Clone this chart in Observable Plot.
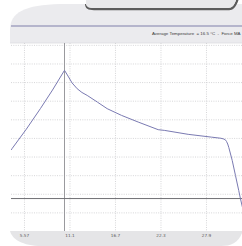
<!DOCTYPE html>
<html>
<head>
<meta charset="utf-8">
<script src="https://cdn.jsdelivr.net/npm/d3@7"></script>
<script src="https://cdn.jsdelivr.net/npm/@observablehq/plot@0.6"></script>
<style>
  html, body { margin: 0; padding: 0; background: #fff; overflow: hidden; }
  svg { display: block; }
</style>
</head>
<body>
<div id="chart"></div>
<script>
// ---- data ----
const xTicks = [5.57, 11.14, 16.71, 22.28, 27.85];
const xTickLabels = ["5.57", "11.1", "16.7", "22.3", "27.9"];
const yGrid = [1, 2, 3, 4, 5, 6, 7, 8, 9, 10];
const curveX = [3.98, 4.06, 5.8, 7.53, 9.0, 10.47, 10.9, 11.4, 12.02, 12.6, 13.25, 14.5, 15.69, 17.44, 19.49, 21.94, 22.74, 25.61, 28.46, 29.6, 29.89, 30.15, 30.30, 30.45, 30.58, 31.00, 31.40, 31.80, 32.01, 32.26];
const curveY = [4.40, 4.46, 5.50, 6.61, 7.60, 8.66, 8.35, 7.98, 7.67, 7.47, 7.31, 6.95, 6.60, 6.24, 5.88, 5.47, 5.43, 5.22, 5.07, 5.01, 4.98, 4.93, 4.84, 4.70, 4.52, 3.82, 3.01, 2.20, 1.76, 1.29];
const cursorX = [10.47];
const baseY = [1.77];
const headerText = "Average Temperature  = 16.5 °C  -  Force MA";

const curve = curveX.map((x, i) => ({x, y: curveY[i]}));

// decorative device-screen background
function background(index, scales, values, dims) {
  const g = d3.create("svg:g").attr("text-anchor", "start");
  const W = dims.width;
  // header band
  g.append("path")
    .attr("d", `M10,43 L10,30 C10,12 25,5 60,4 L${W},4 L${W},43 Z`)
    .attr("fill", "#ebebee");
  // top tab with bottom shadow
  g.append("path")
    .attr("d", `M85,4 C85,8.5 88,10.2 94,10.2 L229,10.2 C234,10.2 236.5,6 238.5,0 L236,0 C234.5,5 232,8 228,8 L94,8 C89,8 87,7 86,4 Z`)
    .attr("fill", "#5c5c5c");
  g.append("path")
    .attr("d", `M86,0 L86,4 C87,7 89,8 94,8 L228,8 C232,8 234.5,5 236,0 Z`)
    .attr("fill", "#e9e9eb");
  // blue-gray separator line
  g.append("line")
    .attr("x1", 11).attr("x2", W).attr("y1", 26).attr("y2", 26)
    .attr("stroke", "#a3a3c0").attr("stroke-width", 1.4);
  // header bottom edge
  g.append("line")
    .attr("x1", 10).attr("x2", W).attr("y1", 43).attr("y2", 43)
    .attr("stroke", "#dcdcdf").attr("stroke-width", 0.8);
  // bottom band
  g.append("path")
    .attr("d", `M10,231 L${W},231 L${W},233 C238,243 231,246 221,246 L42,246 C22,246 12,239 10,231 Z`)
    .attr("fill", "#e5e5e7");
  // header text
  g.append("text")
    .attr("x", 152).attr("y", 34.8)
    .attr("font-family", "Liberation Sans, Arial, sans-serif")
    .attr("font-size", 4.4)
    .attr("fill", "#3a3a3a")
    .attr("textLength", 88.5)
    .attr("lengthAdjust", "spacingAndGlyphs")
    .attr("xml:space", "preserve")
    .text(headerText);
  return g.node();
}

const chart = Plot.plot({
  width: 242,
  height: 246,
  marginTop: 43,
  marginBottom: 15,
  marginLeft: 11,
  marginRight: 0,
  style: {background: "#fff", overflow: "hidden"},
  x: {domain: [3.98, 32.26], axis: null, label: null},
  y: {domain: [0, 10.1], axis: null, label: null},
  marks: [
    background,
    Plot.ruleY(yGrid, {stroke: "#cbcbce", strokeWidth: 0.8, strokeDasharray: "1,1.3"}),
    Plot.ruleX(xTicks, {stroke: "#cbcbce", strokeWidth: 0.8, strokeDasharray: "1,1.3"}),
    Plot.ruleX(cursorX, {stroke: "#9a9a9e", strokeWidth: 1}),
    Plot.ruleY(baseY, {stroke: "#707074", strokeWidth: 1}),
    Plot.line(curve, {x: "x", y: "y", stroke: "#7a7ab2", strokeWidth: 1, clip: true}),
    Plot.axisX({
      ticks: xTicks,
      tickSize: 0,
      tickPadding: 3,
      label: null,
      tickFormat: (d, i) => xTickLabels[i],
      fontSize: 4.2,
      fill: "#5a5a5a",
      fontFamily: "DejaVu Sans, sans-serif"
    })
  ]
});
document.getElementById("chart").append(chart);
</script>
</body>
</html>
